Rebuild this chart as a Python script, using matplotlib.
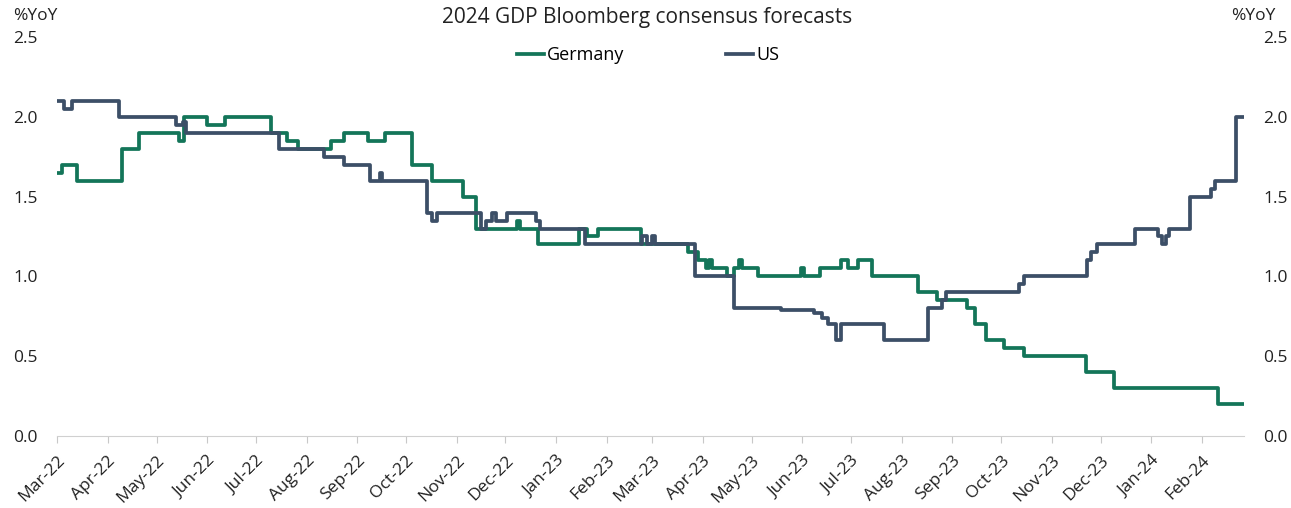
import matplotlib
matplotlib.use("Agg")
import matplotlib.pyplot as plt
import matplotlib.dates as mdates
import pandas as pd

plt.rcParams['font.family'] = ['Open Sans', 'DejaVu Sans']

start = pd.Timestamp('2022-03-01')

# step change points: days since 1 Mar 2022, value held from that day on
de_days = [0, 3, 12, 40, 50, 75, 78, 92, 103, 131, 141, 148, 168, 176, 191, 201,
           218, 230, 249, 257, 282, 284, 295, 320, 325, 332, 358, 387, 393, 398,
           400, 402, 411, 415, 418, 420, 430, 456, 458, 468, 481, 485, 491, 500,
           528, 540, 558, 563, 570, 581, 593, 631, 648, 712, 728]
de_vals = [1.65, 1.70, 1.60, 1.80, 1.90, 1.85, 2.00, 1.95, 2.00, 1.90, 1.85, 1.80,
           1.85, 1.90, 1.85, 1.90, 1.70, 1.60, 1.50, 1.30, 1.35, 1.30, 1.20, 1.30,
           1.25, 1.30, 1.20, 1.15, 1.10, 1.05, 1.10, 1.05, 1.00, 1.05, 1.10, 1.05,
           1.00, 1.05, 1.00, 1.05, 1.10, 1.05, 1.10, 1.00, 0.90, 0.85, 0.80, 0.70,
           0.60, 0.55, 0.50, 0.40, 0.30, 0.20, 0.20]

us_days = [0, 4, 9, 38, 73, 77, 79, 136, 164, 176, 192, 198, 199, 227, 230, 233,
           260, 263, 267, 269, 276, 294, 296, 324, 359, 362, 365, 367, 391, 415,
           444, 464, 469, 473, 478, 481, 507, 534, 543, 545, 590, 593, 632, 634,
           638, 661, 675, 678, 680, 682, 695, 708, 710, 723, 728]
us_vals = [2.10, 2.05, 2.10, 2.00, 1.95, 1.97, 1.90, 1.80, 1.75, 1.70, 1.60, 1.65,
           1.60, 1.40, 1.35, 1.40, 1.30, 1.35, 1.40, 1.35, 1.40, 1.35, 1.30, 1.20,
           1.25, 1.20, 1.25, 1.20, 1.00, 0.80, 0.79, 0.77, 0.74, 0.70, 0.60, 0.70,
           0.60, 0.80, 0.85, 0.90, 0.95, 1.00, 1.10, 1.15, 1.20, 1.30, 1.25, 1.20,
           1.25, 1.30, 1.50, 1.55, 1.60, 2.00, 2.00]

de_dates = start + pd.to_timedelta(de_days, unit='D')
us_dates = start + pd.to_timedelta(us_days, unit='D')

green = '#137559'
blue = '#3c4f67'

fig = plt.figure(figsize=(12.91, 5.08), dpi=100)
ax = fig.add_axes([0.0442, 0.1417, 0.9194, 0.7855])

ax.plot(de_dates, de_vals, drawstyle='steps-post', color=green, lw=2.7,
        solid_joinstyle='round', label='Germany')
ax.plot(us_dates, us_vals, drawstyle='steps-post', color=blue, lw=2.7,
        solid_joinstyle='round', label='US')

ax.set_xlim(start, start + pd.Timedelta(days=728))
ax.set_ylim(0, 2.5)
ax.set_yticks([0, 0.5, 1.0, 1.5, 2.0, 2.5])
ax.yaxis.set_major_formatter(matplotlib.ticker.FormatStrFormatter('%.1f'))
ax.tick_params(axis='y', length=0, pad=14, labelsize=12.5, colors='#222222')

ax.xaxis.set_major_locator(mdates.MonthLocator())
ax.xaxis.set_major_formatter(mdates.DateFormatter('%b-%y'))
ax.tick_params(axis='x', length=5, labelsize=12.5, pad=7, labelcolor='#222222',
               color='#c8c8c8')
for lab in ax.get_xticklabels():
    lab.set_rotation(45)
    lab.set_ha('right')
    lab.set_rotation_mode('anchor')

for s in ['top', 'right', 'left']:
    ax.spines[s].set_visible(False)
ax.spines['bottom'].set_color('#d0d0d0')

ax2 = ax.twinx()
ax2.set_ylim(0, 2.5)
ax2.set_yticks([0, 0.5, 1.0, 1.5, 2.0, 2.5])
ax2.yaxis.set_major_formatter(matplotlib.ticker.FormatStrFormatter('%.1f'))
ax2.tick_params(axis='y', length=0, pad=14, labelsize=12.5, colors='#222222')
for s in ax2.spines.values():
    s.set_visible(False)

fig.text(0.010, 0.968, '%YoY', fontsize=12.5, va='center', ha='left', color='#222222')
fig.text(0.988, 0.968, '%YoY', fontsize=12.5, va='center', ha='right', color='#222222')
fig.text(0.501, 0.966, '2024 GDP Bloomberg consensus forecasts', fontsize=15,
         ha='center', va='center', color='#222222')

fig.legend(loc='center', bbox_to_anchor=(0.502, 0.892), ncol=2, frameon=False,
           fontsize=13, handlelength=1.5, handletextpad=0.2, columnspacing=5.6)

fig.savefig('out.png', dpi=100)
